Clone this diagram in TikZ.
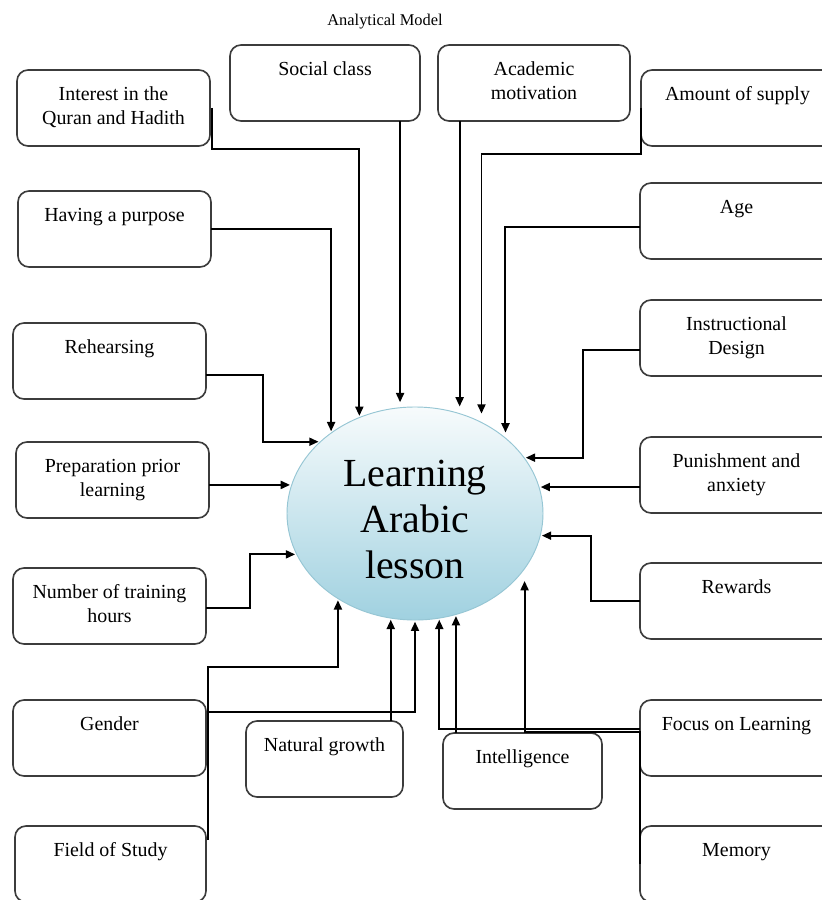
\documentclass[tikz,border=0pt]{standalone}
\usepackage{fontspec}
\setmainfont{Liberation Serif}
\usetikzlibrary{shapes.geometric,arrows.meta}

% one drawing unit = one pixel of the 822 x 900 layout
\newlength\pxu
\setlength\pxu{0.03cm}
\newcommand{\boxfont}{\fontsize{17}{20.5}\selectfont}
\newcommand{\ellfont}{\fontsize{34}{39.5}\selectfont}
% text at the top of a factor box of given width
\newcommand{\boxlabel}[2]{\parbox[c][76\pxu][t]{#1\pxu}{\centering\vspace*{12pt}\strut #2\par}}

\definecolor{ellTop}{RGB}{247,251,252}
\definecolor{ellMid}{RGB}{214,235,242}
\definecolor{ellBot}{RGB}{160,209,224}
\definecolor{ellEdge}{RGB}{150,198,212}
\definecolor{boxEdge}{RGB}{60,60,60}

\tikzset{
  boxnode/.style={draw=boxEdge, line width=1.4pt, rounded corners=0.33cm,
    inner sep=0pt, outer sep=0pt, anchor=north west, fill=white, font=\boxfont},
  conn/.style={draw=black, line width=1.7pt,
    -{Triangle[length=0.28cm,width=0.24cm]}, shorten >=1pt},
}

\begin{document}
\begin{tikzpicture}[x=0.03cm, y=-0.03cm]
\useasboundingbox (0,0) rectangle (822,900);
\clip (0,0) rectangle (822,900);
\fill[white] (0,0) rectangle (822,900);

% title
\node[font=\fontsize{14}{17}\selectfont] (title) at (385,22) {Analytical Model};

% central outcome
\node[ellipse, minimum width=256\pxu, minimum height=213\pxu, inner sep=0pt,
      top color=ellTop, middle color=ellMid, bottom color=ellBot,
      draw=ellEdge, line width=0.8pt, align=center, font=\ellfont]
      (ell) at (415,513.5) {\parbox{4.5cm}{\centering\vspace*{10.5pt}Learning\\Arabic\\lesson}};

% factor boxes, left column
\node[boxnode] (intq) at (17,70)  {\boxlabel{193}{Interest in the\\Quran and Hadith}};
\node[boxnode] (hav)  at (18,191) {\boxlabel{193}{Having a purpose}};
\node[boxnode] (reh)  at (13,323) {\boxlabel{193}{Rehearsing}};
\node[boxnode] (prep) at (16,442) {\boxlabel{193}{Preparation prior\\learning}};
\node[boxnode] (num)  at (13,568) {\boxlabel{193}{Number of training\\hours}};
\node[boxnode] (gen)  at (13,700) {\boxlabel{193}{Gender}};
\node[boxnode] (fos)  at (15,826) {\boxlabel{191}{Field of Study}};

% factor boxes, top and bottom
\node[boxnode] (soc)  at (230,45)  {\boxlabel{190}{Social class}};
\node[boxnode] (acad) at (438,45)  {\boxlabel{192}{Academic\\motivation}};
\node[boxnode] (nat)  at (246,721) {\boxlabel{157}{Natural growth}};
\node[boxnode] (intl) at (443,733) {\boxlabel{159}{Intelligence}};

% factor boxes, right column
\node[boxnode] (amt)  at (641,70)  {\boxlabel{193}{Amount of supply}};
\node[boxnode] (age)  at (640,183) {\boxlabel{193}{Age}};
\node[boxnode] (ins)  at (640,300) {\boxlabel{193}{Instructional\\Design}};
\node[boxnode] (pun)  at (640,437) {\boxlabel{193}{Punishment and\\anxiety}};
\node[boxnode] (rew)  at (640,563) {\boxlabel{193}{Rewards}};
\node[boxnode] (foc)  at (640,700) {\boxlabel{193}{Focus on Learning}};
\node[boxnode] (mem)  at (640,826) {\boxlabel{193}{Memory}};

% connectors from above
\draw[conn] ([xshift=0.06cm]intq.east) -- ++(0,41) -| (ell.120.9);
\draw[conn] (hav.east) -| (ell.136.4);
\draw[conn, shorten >=0.15cm] (ell.98.1 |- soc.south) -- (ell.98.1);
\draw[conn, shorten >=0.2cm] (ell.66.1 |- acad.south) -- (ell.66.1);
\draw[conn, shorten >=0.25cm] (amt.west) -- ++(0,46) -| (ell.54.5);
\draw[conn, shorten >=0.15cm] ([yshift=-0.18cm]age.west) -| (ell.40);

% connectors from the right
\draw[conn] ([yshift=-0.36cm]ins.west) -- ++(-57,0) |- (ell.27.3);
\draw[conn] (ell.12.3 -| pun.west) -- (ell.12.3);
\draw[conn] (rew.west) -- ++(-49,0) |- (ell.350.5);

% connectors from the left
\draw[conn] ([yshift=-0.42cm]reh.east) -- ++(57,0) |- (ell.143.9);
\draw[conn] (ell.167.7 -| prep.east) -- (ell.167.7);
\draw[conn] ([yshift=-0.06cm]num.east) -- ++(44,0) |- (ell.199.2);

% connectors from below
\draw[conn] ([shift={(0.06cm,0.72cm)}]fos.east) -- ++(0,-173) -| (ell.228.9);
\draw[conn] ([shift={(0.06cm,0.78cm)}]gen.east) -| (ell.south);
\draw[conn] (ell.257.6 |- nat.north) -- (ell.257.6);
\draw[conn] (ell.292.2 |- intl.north) -- (ell.292.2);
\draw[conn] ([yshift=0.27cm]foc.west) -| (ell.283);
\draw[conn, shorten >=0.35cm] (mem.west) -- ++(0,-132) -| (ell.333.8);
\end{tikzpicture}
\end{document}
